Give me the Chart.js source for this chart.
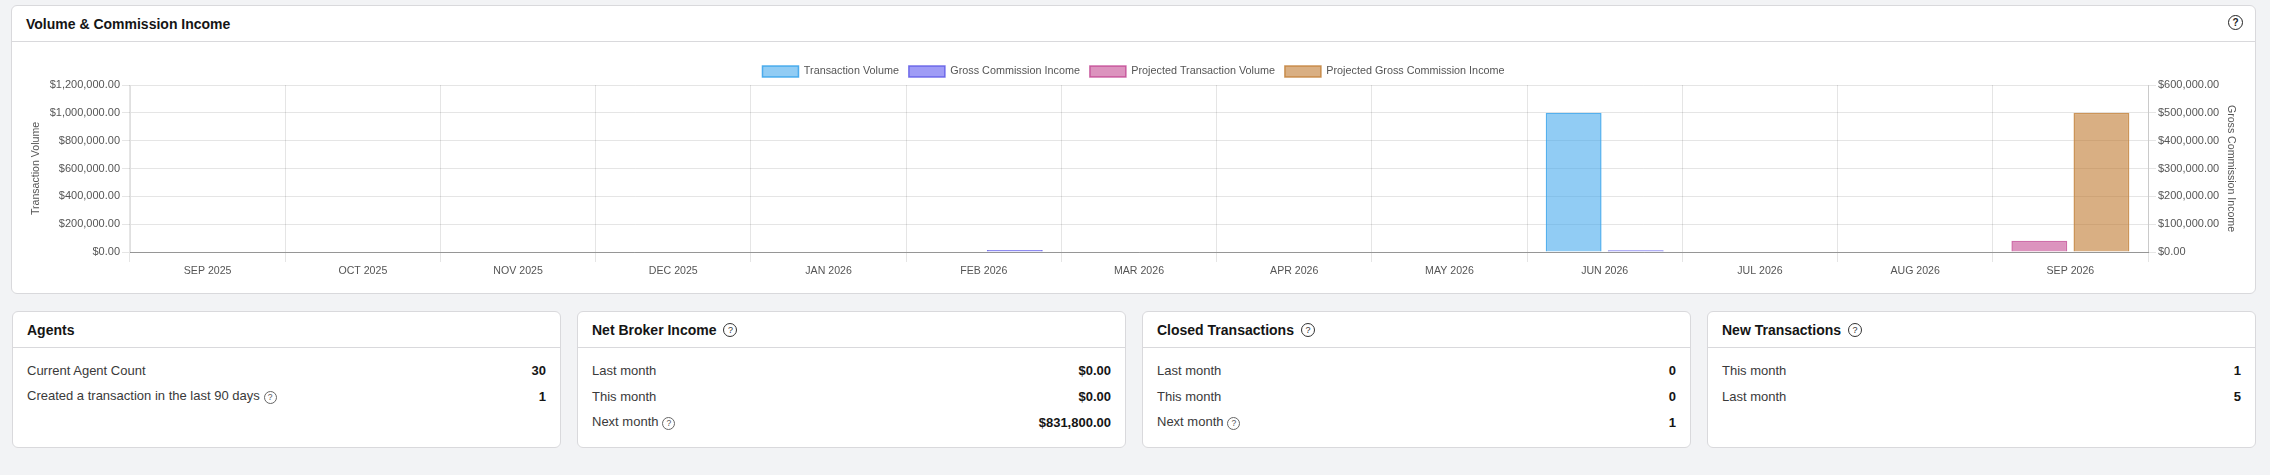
<!DOCTYPE html>
<html>
<head>
<meta charset="utf-8">
<script src="https://cdn.jsdelivr.net/npm/chart.js@4"></script>
<style>
  html, body { margin: 0; padding: 0; }
  body { width: 2270px; height: 475px; background: #f2f3f5; position: relative; overflow: hidden;
         font-family: "Liberation Sans", Arial, Helvetica, sans-serif; color: #333; }
  .card { position: absolute; background: #fff; border: 1px solid #d9d9dc; border-radius: 6px; box-sizing: border-box; }
  .card .hdr { position: absolute; left: 0; right: 0; top: 0; height: 35px; border-bottom: 1px solid #d9d9dc;
               display: flex; align-items: center; padding-left: 14px; font-size: 14px; font-weight: 700; color: #151515; }
  .help { display: inline-block; width: 12px; height: 12px; border: 1.2px solid #333; border-radius: 50%;
          font-size: 9px; line-height: 12px; text-align: center; font-weight: 400; color: #333; margin-left: 7px; box-sizing: content-box; }
  .help.sm { width: 11px; height: 11px; line-height: 11px; font-size: 8.5px; border-color: #666; color: #555; margin-left: 4px; border-width: 1px; }
  .rows { position: absolute; left: 14px; right: 14px; top: 45px; }
  .row { height: 26px; display: flex; align-items: center; justify-content: space-between; font-size: 13px; color: #3a3a3a; }
  .row .v { font-weight: 700; color: #151515; }
  #chartWrap { position: absolute; left: 21px; top: 56px; width: 2224px; height: 232px; }
  #mainHelp { position: absolute; left: 2216px; top: 9px; width: 13px; height: 13px; line-height: 13px; font-size: 10px; margin: 0; border-color:#222; color:#222; font-weight:700; }
</style>
</head>
<body>
<div class="card" id="chartCard" style="left:11px; top:5px; width:2245px; height:289px;">
  <div class="hdr">Volume &amp; Commission Income</div>
  <span class="help" id="mainHelp">?</span>
</div>
<div id="chartWrap"><canvas id="chart"></canvas></div>

<div class="card" style="left:12px; top:311px; width:549px; height:137px;">
  <div class="hdr">Agents</div>
  <div class="rows">
    <div class="row"><span>Current Agent Count</span><span class="v">30</span></div>
    <div class="row"><span>Created a transaction in the last 90 days<span class="help sm">?</span></span><span class="v">1</span></div>
  </div>
</div>
<div class="card" style="left:577px; top:311px; width:549px; height:137px;">
  <div class="hdr">Net Broker Income<span class="help">?</span></div>
  <div class="rows">
    <div class="row"><span>Last month</span><span class="v">$0.00</span></div>
    <div class="row"><span>This month</span><span class="v">$0.00</span></div>
    <div class="row"><span>Next month<span class="help sm">?</span></span><span class="v">$831,800.00</span></div>
  </div>
</div>
<div class="card" style="left:1142px; top:311px; width:549px; height:137px;">
  <div class="hdr">Closed Transactions<span class="help">?</span></div>
  <div class="rows">
    <div class="row"><span>Last month</span><span class="v">0</span></div>
    <div class="row"><span>This month</span><span class="v">0</span></div>
    <div class="row"><span>Next month<span class="help sm">?</span></span><span class="v">1</span></div>
  </div>
</div>
<div class="card" style="left:1707px; top:311px; width:549px; height:137px;">
  <div class="hdr">New Transactions<span class="help">?</span></div>
  <div class="rows">
    <div class="row"><span>This month</span><span class="v">1</span></div>
    <div class="row"><span>Last month</span><span class="v">5</span></div>
  </div>
</div>

<script>
const months = ['SEP 2025','OCT 2025','NOV 2025','DEC 2025','JAN 2026','FEB 2026','MAR 2026','APR 2026','MAY 2026','JUN 2026','JUL 2026','AUG 2026','SEP 2026'];
const transactionVolume = [null,null,null,null,null,null,null,null,null,1000000,null,null,null];
const grossCommissionIncome = [null,null,null,null,null,7000,null,null,null,6000,null,null,null];
const projectedTransactionVolume = [null,null,null,null,null,null,null,null,null,null,null,null,80000];
const projectedGrossCommissionIncome = [null,null,null,null,null,null,null,null,null,null,null,null,500000];
const volumeAxisMax = 1200000, volumeAxisStep = 200000;
const gciAxisMax = 600000, gciAxisStep = 100000;

const money = v => '$' + Number(v).toLocaleString('en-US', {minimumFractionDigits: 2, maximumFractionDigits: 2});

Chart.defaults.font.family = '"Liberation Sans", Arial, Helvetica, sans-serif';
Chart.defaults.color = '#666';

const legendFit = {
  id: 'legendFit',
  beforeInit(chart) {
    const orig = chart.legend.fit;
    chart.legend.fit = function () { orig.call(this); this.height = 29; };
  }
};

new Chart(document.getElementById('chart'), {
  type: 'bar',
  data: {
    labels: months,
    datasets: [
      { label: 'Transaction Volume', data: transactionVolume, stack: 'vol', yAxisID: 'y',
        backgroundColor: 'rgba(54,162,235,0.55)', borderColor: 'rgba(54,162,235,0.85)', borderWidth: 1.5 },
      { label: 'Gross Commission Income', data: grossCommissionIncome, stack: 'gci', yAxisID: 'y1',
        backgroundColor: 'rgba(80,75,238,0.55)', borderColor: 'rgba(95,90,230,0.85)', borderWidth: 1.5 },
      { label: 'Projected Transaction Volume', data: projectedTransactionVolume, stack: 'vol', yAxisID: 'y',
        backgroundColor: 'rgba(185,40,125,0.5)', borderColor: 'rgba(190,60,140,0.75)', borderWidth: 1.5 },
      { label: 'Projected Gross Commission Income', data: projectedGrossCommissionIncome, stack: 'gci', yAxisID: 'y1',
        backgroundColor: 'rgba(185,110,30,0.55)', borderColor: 'rgba(195,130,60,0.85)', borderWidth: 1.5 }
    ]
  },
  plugins: [legendFit],
  options: {
    responsive: true,
    maintainAspectRatio: false,
    animation: false,
    layout: { padding: { left: 5, right: 4, top: 0, bottom: 0 } },
    plugins: {
      legend: {
        position: 'top',
        labels: { boxWidth: 36, boxHeight: 11, padding: 10, font: { size: 10.8 }, color: '#555' }
      },
      tooltip: { enabled: false }
    },
    scales: {
      x: {
        stacked: true,
        grid: { color: 'rgba(0,0,0,0.1)', offset: true, tickLength: 10 },
        border: { color: 'rgba(0,0,0,0.35)' },
        ticks: { font: { size: 10.6 }, color: '#555', padding: 3 },
        afterFit(scale) { scale.height = 36; }
      },
      y: {
        position: 'left', stacked: true, beginAtZero: true, max: volumeAxisMax,
        grid: { color: 'rgba(0,0,0,0.1)' },
        border: { color: 'rgba(0,0,0,0.12)' },
        ticks: { stepSize: volumeAxisStep, callback: v => money(v), font: { size: 11 }, color: '#555', padding: 2 },
        title: { display: true, text: 'Transaction Volume', font: { size: 10.6 }, color: '#555', padding: 4 },
        afterFit(scale) { scale.width = 104; }
      },
      y1: {
        position: 'right', stacked: true, beginAtZero: true, max: gciAxisMax,
        grid: { drawOnChartArea: false, color: 'rgba(0,0,0,0.1)' },
        border: { color: 'rgba(0,0,0,0.12)' },
        ticks: { stepSize: gciAxisStep, callback: v => money(v), font: { size: 11 }, color: '#555', padding: 2 },
        title: { display: true, text: 'Gross Commission Income', font: { size: 10.6 }, color: '#555', padding: 4 },
        afterFit(scale) { scale.width = 93; }
      }
    }
  }
});
</script>
</body>
</html>
